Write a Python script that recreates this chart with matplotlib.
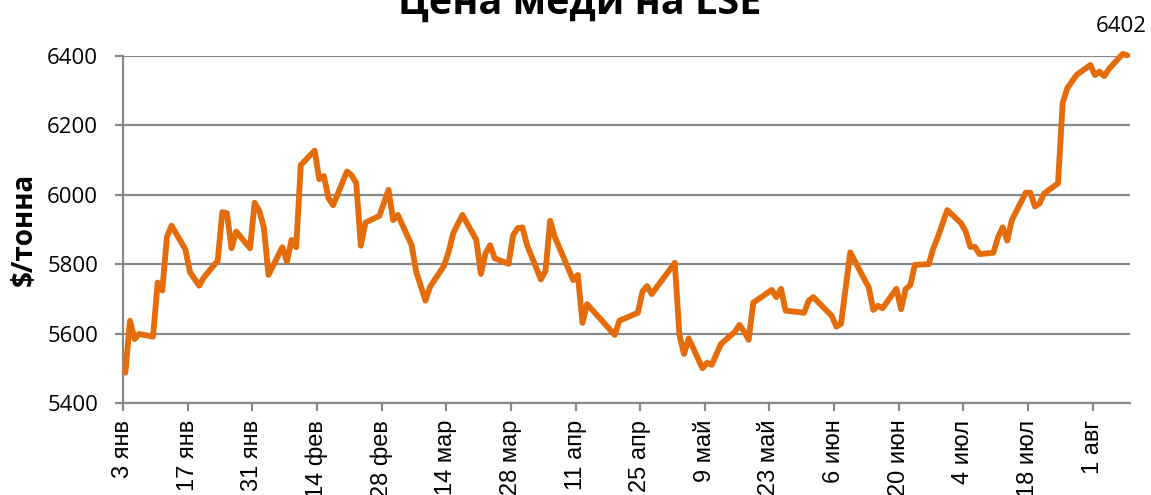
import matplotlib
matplotlib.use("Agg")
import matplotlib.pyplot as plt
import numpy as np
import pandas as pd

title = "Цена меди на LSE"
ylabel = "$/тонна"

dates = [
    "2017-01-03", "2017-01-04", "2017-01-05", "2017-01-06", "2017-01-09", "2017-01-10",
    "2017-01-11", "2017-01-12", "2017-01-13", "2017-01-16", "2017-01-17", "2017-01-19",
    "2017-01-20", "2017-01-23", "2017-01-24", "2017-01-25", "2017-01-26", "2017-01-27",
    "2017-01-30", "2017-01-31", "2017-02-01", "2017-02-02", "2017-02-03", "2017-02-06",
    "2017-02-07", "2017-02-08", "2017-02-09", "2017-02-10", "2017-02-13", "2017-02-14",
    "2017-02-15", "2017-02-16", "2017-02-17", "2017-02-20", "2017-02-21", "2017-02-22",
    "2017-02-23", "2017-02-24", "2017-02-27", "2017-03-01", "2017-03-02", "2017-03-03",
    "2017-03-06", "2017-03-07", "2017-03-09", "2017-03-10", "2017-03-13", "2017-03-14",
    "2017-03-15", "2017-03-17", "2017-03-20", "2017-03-21", "2017-03-22", "2017-03-23",
    "2017-03-24", "2017-03-27", "2017-03-28", "2017-03-29", "2017-03-30", "2017-03-31",
    "2017-04-03", "2017-04-04", "2017-04-05", "2017-04-06", "2017-04-10", "2017-04-11",
    "2017-04-12", "2017-04-13", "2017-04-19", "2017-04-20", "2017-04-24", "2017-04-25",
    "2017-04-26", "2017-04-27", "2017-05-02", "2017-05-03", "2017-05-04", "2017-05-05",
    "2017-05-08", "2017-05-09", "2017-05-10", "2017-05-12", "2017-05-15", "2017-05-16",
    "2017-05-17", "2017-05-18", "2017-05-19", "2017-05-23", "2017-05-24", "2017-05-25",
    "2017-05-26", "2017-05-30", "2017-05-31", "2017-06-01", "2017-06-05", "2017-06-06",
    "2017-06-07", "2017-06-09", "2017-06-13", "2017-06-14", "2017-06-15", "2017-06-16",
    "2017-06-19", "2017-06-20", "2017-06-21", "2017-06-22", "2017-06-23", "2017-06-26",
    "2017-06-27", "2017-06-28", "2017-06-30", "2017-07-03", "2017-07-04", "2017-07-05",
    "2017-07-06", "2017-07-07", "2017-07-10", "2017-07-11", "2017-07-12", "2017-07-13",
    "2017-07-14", "2017-07-17", "2017-07-18", "2017-07-19", "2017-07-20", "2017-07-21",
    "2017-07-24", "2017-07-25", "2017-07-26", "2017-07-28", "2017-07-31", "2017-08-01",
    "2017-08-02", "2017-08-03", "2017-08-04", "2017-08-07", "2017-08-08",
]

prices = [
    5487, 5637, 5584, 5599, 5591, 5747,
    5724, 5878, 5911, 5843, 5777, 5738,
    5762, 5810, 5950, 5947, 5846, 5894,
    5846, 5977, 5954, 5906, 5769, 5849,
    5807, 5870, 5849, 6086, 6127, 6045,
    6054, 5990, 5970, 6067, 6056, 6034,
    5853, 5920, 5939, 6014, 5927, 5942,
    5855, 5778, 5695, 5735, 5795, 5835,
    5889, 5942, 5870, 5772, 5831, 5855,
    5817, 5801, 5884, 5904, 5906, 5855,
    5756, 5781, 5925, 5879, 5754, 5769,
    5631, 5685, 5596, 5637, 5660, 5721,
    5737, 5714, 5804, 5596, 5541, 5586,
    5500, 5516, 5510, 5570, 5605, 5625,
    5606, 5582, 5689, 5726, 5705, 5729,
    5666, 5660, 5695, 5705, 5651, 5620,
    5628, 5834, 5733, 5668, 5680, 5673,
    5729, 5670, 5728, 5740, 5798, 5800,
    5846, 5879, 5956, 5918, 5894, 5850,
    5850, 5829, 5833, 5878, 5906, 5868,
    5927, 6006, 6006, 5966, 5975, 6004,
    6033, 6264, 6307, 6345, 6374, 6345,
    6355, 6342, 6362, 6406, 6402,
]

tick_dates = [
    "2017-01-03", "2017-01-17", "2017-01-31", "2017-02-14", "2017-02-28", "2017-03-14",
    "2017-03-28", "2017-04-11", "2017-04-25", "2017-05-09", "2017-05-23", "2017-06-06",
    "2017-06-20", "2017-07-04", "2017-07-18", "2017-08-01",
]
tick_labels = [
    "3 янв", "17 янв", "31 янв", "14 фев", "28 фев", "14 мар",
    "28 мар", "11 апр", "25 апр", "9 май", "23 май", "6 июн",
    "20 июн", "4 июл", "18 июл", "1 авг",
]
y_ticks = [5400, 5600, 5800, 6000, 6200, 6400]
x_start, x_end = "2017-01-03", "2017-08-09"

LINE = "#E46C0A"
GRID = "#898989"

fig = plt.figure(figsize=(11.51, 4.95), dpi=100)
ax = fig.add_axes([0.1069, 0.1859, 0.8745, 0.7010])

# Excel date axis: each day occupies a slot, points sit at its centre
x = pd.to_datetime(dates) + pd.Timedelta(hours=12)
ax.plot(x, prices, color=LINE, lw=4.2, solid_joinstyle="round",
        solid_capstyle="round", zorder=3, clip_on=False)

ax.set_xlim(pd.Timestamp(x_start), pd.Timestamp(x_end))
ax.set_ylim(y_ticks[0], y_ticks[-1])
ax.set_yticks(y_ticks)
ax.set_yticklabels([str(v) for v in y_ticks], family="Open Sans", fontsize=16)
ax.set_xticks(pd.to_datetime(tick_dates))
ax.set_xticklabels(tick_labels, rotation=90, family="Liberation Sans", fontsize=17,
                   va="top", ha="center")

ax.grid(axis="y", color=GRID, lw=1.6, zorder=1)
ax.set_axisbelow(True)
for s in ("top", "right"):
    ax.spines[s].set_visible(False)
for s in ("left", "bottom"):
    ax.spines[s].set_color(GRID)
    ax.spines[s].set_linewidth(1.6)
ax.tick_params(axis="y", direction="out", length=6, width=1.6, color=GRID, pad=12)
ax.tick_params(axis="x", direction="out", length=6, width=1.6, color=GRID, pad=6)

ax.set_ylabel(ylabel, family="Open Sans", fontweight="bold", fontsize=20)
ax.yaxis.set_label_coords(-0.084, 0.5)

fig.text(0.504, 1 - 14 / 495, title, ha="center", va="baseline",
         family="Open Sans", fontweight="bold", fontsize=28.5)

ax.annotate(str(prices[-1]), xy=(x[-1], prices[-1]), xytext=(-4, 17),
            textcoords="offset points", ha="center", va="baseline",
            family="Open Sans", fontsize=16, annotation_clip=False)

fig.savefig("out.png", dpi=100)
